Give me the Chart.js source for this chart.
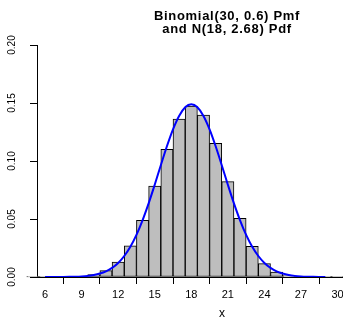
<!DOCTYPE html>
<html><head><meta charset="utf-8">
<script src="https://cdn.jsdelivr.net/npm/chart.js@4/dist/chart.umd.min.js"></script>
<style>html,body{margin:0;padding:0;background:#fff;overflow:hidden}
#wrap{width:343px;height:320px;overflow:hidden;position:relative;background:#fff}
canvas{display:block}</style></head><body>
<div id="wrap"><canvas id="c" width="407" height="320"></canvas></div>
<script>
const titleLines = ["Binomial(30, 0.6) Pmf", "and N(18, 2.68) Pdf"];
const xAxisLabel = "x";
const categories = [5,6,7,8,9,10,11,12,13,14,15,16,17,18,19,20,21,22,23,24,25,26,27,28,29,30];
const pmfValues = [0.0000013,0.0000078,0.0000401,0.000173,0.000634,0.001998,0.005448,0.01294,0.02687,0.04895,0.07831,0.11013,0.13604,0.14738,0.13962,0.11519,0.08228,0.05049,0.02634,0.01153,0.00415,0.00120,0.00027,0.000043,0.0000044,0.0000002];
const curveX = [6,6.5,7,7.5,8,8.5,9,9.5,10,10.5,11,11.5,12,12.5,13,13.5,14,14.5,15,15.5,16,16.5,17,17.5,18,18.5,19,19.5,20,20.5,21,21.5,22,22.5,23,23.5,24,24.5,25,25.5,26,26.5,27,27.5,28,28.5,29];
const curveY = [0.0000066,0.000015,0.000033,0.000069,0.000141,0.000278,0.000529,0.000974,0.001729,0.002966,0.004911,0.007858,0.012141,0.018121,0.026116,0.036353,0.048867,0.063446,0.079557,0.096338,0.112678,0.127277,0.138849,0.146291,0.148859,0.146291,0.138849,0.127277,0.112678,0.096338,0.079557,0.063446,0.048867,0.036353,0.026116,0.018121,0.012141,0.007858,0.004911,0.002966,0.001729,0.000974,0.000529,0.000278,0.000141,0.000069,0.000033];
const xTicks = [6,9,12,15,18,21,24,27,30];
const yTicks = [0,0.05,0.10,0.15,0.20];
const yTickLabels = ["0.00","0.05","0.10","0.15","0.20"];

const FONT = '"Liberation Sans", Arial, Helvetica, sans-serif';

const titlePlugin = {
  id: 'mainTitle',
  afterDraw(chart) {
    const ctx = chart.ctx;
    ctx.save();
    ctx.fillStyle = '#000';
    ctx.font = 'bold 13px ' + FONT;
    if ('letterSpacing' in ctx) ctx.letterSpacing = '0.7px';
    ctx.textAlign = 'center';
    ctx.textBaseline = 'alphabetic';
    const cx = 227;
    ctx.fillText(titleLines[0], cx, 20);
    ctx.fillText(titleLines[1], cx, 33);
    ctx.restore();
  }
};

new Chart(document.getElementById('c'), {
  type: 'bar',
  data: {
    datasets: [
      {
        type: 'line',
        data: curveX.map((x, i) => ({x: x, y: curveY[i]})),
        borderColor: '#0000FF',
        borderWidth: 2,
        pointRadius: 0,
        fill: false,
        cubicInterpolationMode: 'monotone',
        order: 0
      },
      {
        type: 'bar',
        data: categories.map((k, i) => ({x: k, y: pmfValues[i]})),
        backgroundColor: '#BEBEBE',
        borderColor: '#000000',
        borderWidth: 1,
        borderSkipped: false,
        barPercentage: 1,
        categoryPercentage: 1,
        clip: false,
        order: 1
      }
    ]
  },
  options: {
    responsive: false,
    animation: false,
    devicePixelRatio: 1,
    layout: {padding: {top: 45, left: 0, right: 0, bottom: 0}},
    plugins: {legend: {display: false}, tooltip: {enabled: false}, title: {display: false}},
    scales: {
      x: {
        type: 'linear',
        min: 5.34,
        max: 35.7,
        offset: false,
        afterBuildTicks: s => { s.ticks = xTicks.map(v => ({value: v})); },
        afterFit: s => { s.height = 43; },
        ticks: {
          font: {family: FONT, size: 11},
          color: '#000',
          padding: 4,
          maxRotation: 0,
          autoSkip: false,
          callback: v => String(v)
        },
        grid: {drawOnChartArea: false, drawTicks: true, tickLength: 7, tickColor: '#000'},
        border: {display: true, color: '#000', width: 1},
        title: {display: true, text: xAxisLabel, color: '#000', font: {family: FONT, size: 12, lineHeight: 1}, padding: 0}
      },
      y: {
        type: 'linear',
        min: 0,
        max: 0.2,
        afterBuildTicks: s => { s.ticks = yTicks.map(v => ({value: v})); },
        afterFit: s => { s.width = 37; },
        ticks: {
          font: {family: FONT, size: 10},
          color: '#000',
          padding: 8,
          minRotation: 90,
          maxRotation: 90,
          crossAlign: 'center',
          autoSkip: false,
          callback: (v, i) => yTickLabels[i]
        },
        grid: {drawOnChartArea: false, drawTicks: true, tickLength: 7, tickColor: '#000'},
        border: {display: true, color: '#000', width: 1}
      }
    }
  },
  plugins: [titlePlugin]
});
</script>
</body></html>
